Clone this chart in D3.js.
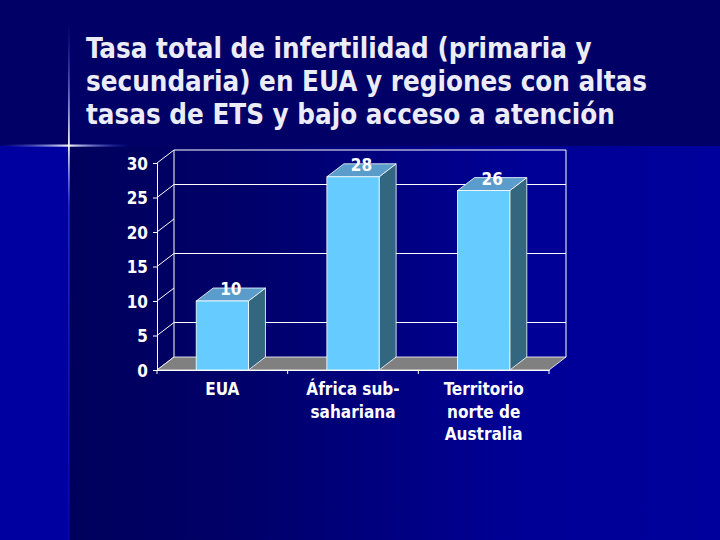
<!DOCTYPE html>
<html>
<head>
<meta charset="utf-8">
<script src="https://cdn.jsdelivr.net/npm/d3@7/dist/d3.min.js"></script>
<style>
  html, body { margin: 0; padding: 0; background: #000066; }
  svg { display: block; }
  .title { fill: #ececf8; font-family: "DejaVu Sans Condensed", "DejaVu Sans", Verdana, sans-serif; font-weight: bold; }
  .lbl { fill: #ffffff; font-family: "DejaVu Sans Condensed", "DejaVu Sans", Verdana, sans-serif; font-weight: bold; font-size: 17px; }
</style>
</head>
<body>
<script>
// data
const titleLines = [
  'Tasa total de infertilidad (primaria y',
  'secundaria) en EUA y regiones con altas',
  'tasas de ETS y bajo acceso a atención'
];
const categories = ['EUA', 'África sub-|sahariana', 'Territorio|norte de|Australia'];
const values = [10, 28, 26];
const yTicks = [0, 5, 10, 15, 20, 25, 30];
const gridValues = [5, 15, 25];

const W = 720, H = 540;
// plot geometry (front plane) and 3d depth offset
const x0 = 157, x1 = 549, yBase = 370, yTop = 163;
const depth = { dx: 17, dy: -13 };

const svg = d3.select('body').append('svg')
  .attr('width', W).attr('height', H);

const defs = svg.append('defs');

// Background
const bgGrad = defs.append('linearGradient').attr('id', 'bgGrad')
  .attr('x1', 0).attr('x2', 1).attr('y1', 0).attr('y2', 0);
bgGrad.append('stop').attr('offset', '0%').attr('stop-color', '#00005c');
bgGrad.append('stop').attr('offset', '25%').attr('stop-color', '#000068');
bgGrad.append('stop').attr('offset', '70%').attr('stop-color', '#000096');
bgGrad.append('stop').attr('offset', '100%').attr('stop-color', '#00009c');

svg.append('rect').attr('width', W).attr('height', H).attr('fill', '#000066');
svg.append('rect').attr('x', 69).attr('y', 146).attr('width', W - 69).attr('height', H - 146)
  .attr('fill', 'url(#bgGrad)');
svg.append('rect').attr('x', 0).attr('y', 146).attr('width', 69).attr('height', H - 146)
  .attr('fill', '#0000a0');

// glow lines
const vGrad = defs.append('linearGradient').attr('id', 'vGrad')
  .attr('x1', 0).attr('x2', 0).attr('y1', 0).attr('y2', 1);
vGrad.append('stop').attr('offset', '0%').attr('stop-color', '#3050ff').attr('stop-opacity', 0);
vGrad.append('stop').attr('offset', '24%').attr('stop-color', '#ffffff').attr('stop-opacity', 0.95);
vGrad.append('stop').attr('offset', '36%').attr('stop-color', '#3050ff').attr('stop-opacity', 0.5);
vGrad.append('stop').attr('offset', '100%').attr('stop-color', '#2040e0').attr('stop-opacity', 0.15);
svg.append('rect').attr('x', 68).attr('y', 20).attr('width', 1.8).attr('height', H - 20)
  .attr('fill', 'url(#vGrad)');

const hGrad = defs.append('linearGradient').attr('id', 'hGrad')
  .attr('x1', 0).attr('x2', 1).attr('y1', 0).attr('y2', 0);
hGrad.append('stop').attr('offset', '0%').attr('stop-color', '#3050ff').attr('stop-opacity', 0);
hGrad.append('stop').attr('offset', '53%').attr('stop-color', '#ffffff').attr('stop-opacity', 0.95);
hGrad.append('stop').attr('offset', '100%').attr('stop-color', '#3050ff').attr('stop-opacity', 0);
svg.append('rect').attr('x', 0).attr('y', 144.5).attr('width', 130).attr('height', 2.2)
  .attr('fill', 'url(#hGrad)');

// Title
svg.append('text').attr('class', 'title')
  .attr('font-size', 24)
  .selectAll('tspan').data(titleLines).join('tspan')
  .attr('x', 86).attr('y', (d, i) => 58 + i * 33)
  .text(d => d);

// fit title width to the picture
const titleNode = svg.select('.title').node();
const tw = titleNode.getBBox().width;
const targetW = 561;
if (tw > 0) svg.select('.title').attr('font-size', 24 * targetW / tw);

// Scales
const x = d3.scaleBand().domain(categories).range([x0, x1]).padding(0);
const y = d3.scaleLinear().domain([0, 30]).range([yBase, yTop]);
const barW = x.bandwidth() * 0.4;

const g = svg.append('g');

// back wall grid lines
gridValues.forEach(v => {
  g.append('line')
    .attr('x1', x0 + depth.dx).attr('x2', x1 + depth.dx)
    .attr('y1', y(v) + depth.dy).attr('y2', y(v) + depth.dy)
    .attr('stroke', '#fff').attr('stroke-width', 1);
});
// back wall outline
g.append('path')
  .attr('d', `M${x0 + depth.dx},${y(0) + depth.dy}V${y(30) + depth.dy}H${x1 + depth.dx}V${y(0) + depth.dy}`)
  .attr('fill', 'none').attr('stroke', '#fff').attr('stroke-width', 1);

// side wall diagonals at each tick
yTicks.forEach(v => {
  g.append('line')
    .attr('x1', x0).attr('y1', y(v))
    .attr('x2', x0 + depth.dx).attr('y2', y(v) + depth.dy)
    .attr('stroke', '#fff').attr('stroke-width', 1);
});

// floor
g.append('path')
  .attr('d', `M${x0},${yBase}L${x1},${yBase}L${x1 + depth.dx},${yBase + depth.dy}L${x0 + depth.dx},${yBase + depth.dy}Z`)
  .attr('fill', '#808080').attr('stroke', '#fff').attr('stroke-width', 0.8);

// value axis
const yAxis = g.append('g')
  .attr('transform', `translate(${x0},0)`)
  .call(d3.axisLeft(y).tickValues(yTicks).tickSize(4).tickPadding(5));
yAxis.select('.domain').attr('stroke', '#fff');
yAxis.selectAll('.tick line').attr('stroke', '#fff');
yAxis.selectAll('.tick text').attr('class', 'lbl').attr('fill', '#fff').attr('dy', '0.36em');

// category axis
const xAxis = g.append('g')
  .attr('transform', `translate(0,${yBase})`)
  .call(d3.axisBottom(x).tickSize(0).tickFormat(''));
xAxis.select('.domain').attr('stroke', '#fff');
// boundary ticks
const bounds = categories.map(c => x(c) + x.bandwidth()).concat([x0]);
xAxis.selectAll('.bnd').data(bounds).join('line')
  .attr('x1', d => d).attr('x2', d => d).attr('y1', 0).attr('y2', 4)
  .attr('stroke', '#fff');

// category labels
categories.forEach(c => {
  const t = g.append('text').attr('class', 'lbl').attr('text-anchor', 'middle');
  c.split('|').forEach((line, i) => {
    t.append('tspan').attr('x', x(c) + x.bandwidth() / 2).attr('y', 395 + i * 22.5).text(line);
  });
});

// bars
const bars = g.selectAll('.bar').data(values).join('g').attr('class', 'bar');
bars.each(function (v, i) {
  const b = d3.select(this);
  const bx = x(categories[i]) + (x.bandwidth() - barW) / 2;
  const top = y(v);
  // side face
  b.append('path')
    .attr('d', `M${bx + barW},${yBase}L${bx + barW + depth.dx},${yBase + depth.dy}L${bx + barW + depth.dx},${top + depth.dy}L${bx + barW},${top}Z`)
    .attr('fill', '#33667f').attr('stroke', '#fff').attr('stroke-width', 0.8);
  // top face
  b.append('path')
    .attr('d', `M${bx},${top}L${bx + depth.dx},${top + depth.dy}L${bx + barW + depth.dx},${top + depth.dy}L${bx + barW},${top}Z`)
    .attr('fill', '#5a9ccb').attr('stroke', '#fff').attr('stroke-width', 0.8);
  // front face
  b.append('rect')
    .attr('x', bx).attr('y', top).attr('width', barW).attr('height', yBase - top)
    .attr('fill', '#66ccff').attr('stroke', '#fff').attr('stroke-width', 0.8);
  // value label
  b.append('text').attr('class', 'lbl').attr('text-anchor', 'middle')
    .attr('x', bx + barW / 2 + depth.dx / 2).attr('y', top - 6)
    .text(v);
});
</script>
</body>
</html>
